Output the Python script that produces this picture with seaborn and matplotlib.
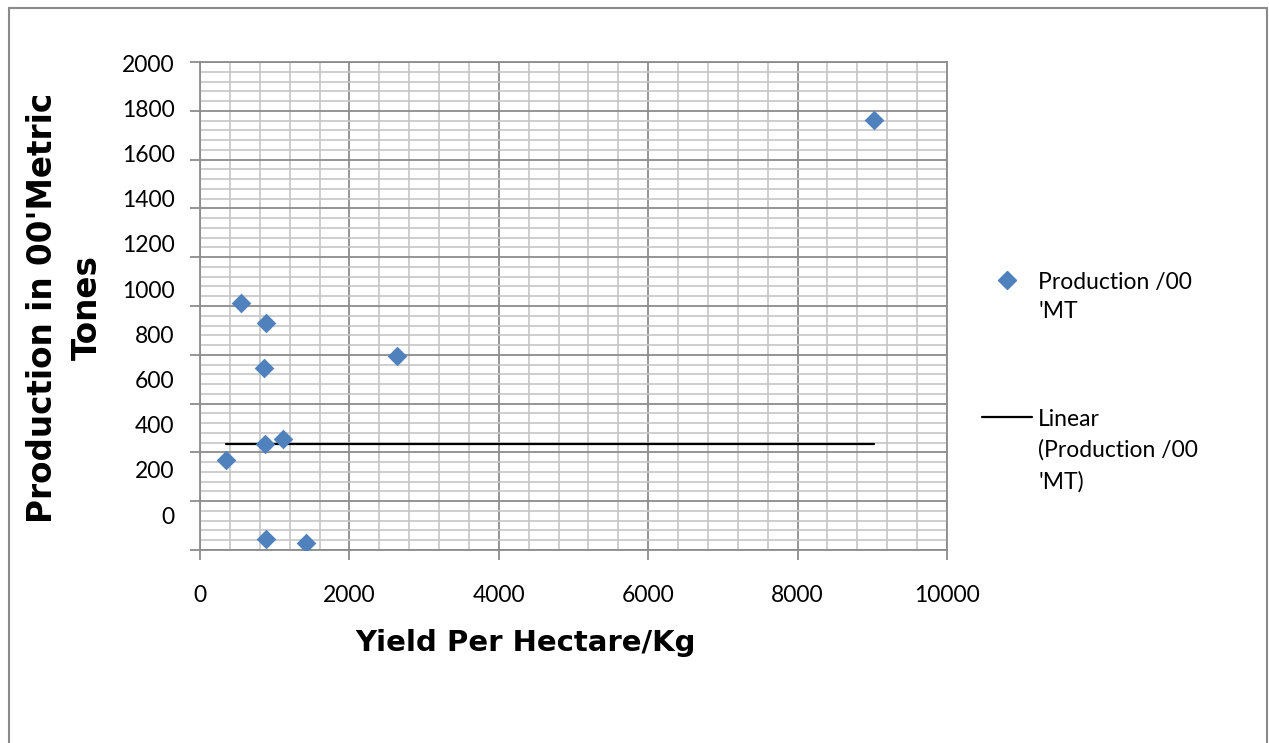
import numpy as np
import pandas as pd
import seaborn as sns
import matplotlib.pyplot as plt
from matplotlib.ticker import MultipleLocator
from matplotlib.lines import Line2D

# -------------------------------
# Data
yield_kg = [348, 549, 883, 857, 874, 1107, 883, 1419, 2633, 9023]
production = [369, 1011, 931, 745, 434, 454, 44, 27, 795, 1762]
trend_level = 434  # flat linear trendline as drawn in the source

x_ticks = [0, 2000, 4000, 6000, 8000, 10000]
y_ticks = [0, 200, 400, 600, 800, 1000, 1200, 1400, 1600, 1800, 2000]

blue = "#4F81BD"
major_grid = "#8c8c8c"
minor_grid = "#c6c6c6"
W, H = 1269, 743

sns.set_style("white")
plt.rcParams["font.family"] = ["Lato", "DejaVu Sans"]
plt.rcParams["text.color"] = "black"
plt.rcParams["xtick.labelcolor"] = "black"
plt.rcParams["ytick.labelcolor"] = "black"

fig = plt.figure(figsize=(W / 100, H / 100), dpi=100)
ax = fig.add_axes([200 / W, 1 - 550 / H, (947 - 200) / W, (550 - 62) / H])

# -------------------------------
# Scatter + trendline
df = pd.DataFrame({"yield": yield_kg, "production": production})
sns.scatterplot(data=df, x="yield", y="production", marker="D", s=100,
                color=blue, edgecolor=blue, linewidth=0, ax=ax, zorder=3, legend=False)

trend = pd.DataFrame({"yield": [min(yield_kg), max(yield_kg)],
                      "production": [trend_level, trend_level]})
sns.lineplot(data=trend, x="yield", y="production", color="black", linewidth=1.6,
             ax=ax, zorder=2)

# -------------------------------
# Axes, grid
ax.set_xlim(x_ticks[0], x_ticks[-1])
ax.set_ylim(y_ticks[0], y_ticks[-1])
ax.set_xticks(x_ticks)
ax.set_yticks(y_ticks)
ax.xaxis.set_minor_locator(MultipleLocator(400))
ax.yaxis.set_minor_locator(MultipleLocator(40))
ax.grid(which="minor", color=minor_grid, linewidth=1.2)
ax.grid(which="major", color=major_grid, linewidth=1.3)
ax.set_axisbelow(True)
ax.tick_params(which="minor", length=0)
ax.tick_params(which="major", length=7, width=1.3, color=major_grid, direction="out",
               left=True, bottom=True, labelsize=16.5, pad=18, labelcolor="black")
ax.set_yticklabels([])
ax.set_xlabel("")
ax.set_ylabel("")
for s in ax.spines.values():
    s.set_color(major_grid)
    s.set_linewidth(1.3)

# y tick labels drift upward relative to the gridlines in the source
for v in y_ticks:
    frac = 1 - (1 + (y_ticks[-1] - v) / 200 * 45.2) / 488
    ax.text(-0.034, frac, str(v), transform=ax.transAxes, ha="right",
            va="center_baseline", fontsize=16.5, color="black")

# -------------------------------
# Axis titles
fig.text(526 / W, 1 - 643 / H, "Yield Per Hectare/Kg", ha="center", va="center",
         fontsize=21, fontweight="heavy", family="DejaVu Sans", color="black")
fig.text(65 / W, 1 - 308 / H, "Production in 00'Metric\nTones", ha="center", va="center",
         rotation=90, fontsize=23.5, fontweight="heavy", family="DejaVu Sans",
         multialignment="center", linespacing=1.45, color="black")

# -------------------------------
# Legend (drawn by hand to keep markers on the first line)
fig.add_artist(Line2D([1007 / W], [1 - 280 / H], marker="D", markersize=9, color=blue,
                      linestyle="none", transform=fig.transFigure))
fig.add_artist(Line2D([982 / W, 1032 / W], [1 - 417 / H, 1 - 417 / H], color="black",
                      linewidth=1.6, transform=fig.transFigure))
legend_lines = [("Production /00", 280), ("'MT", 310), ("Linear", 417),
                ("(Production /00", 448), ("'MT)", 480)]
for txt, py in legend_lines:
    fig.text(1038 / W, 1 - py / H, txt, ha="left", va="center_baseline", fontsize=16.5,
             color="black")

# -------------------------------
# Chart frame
frame = dict(color="#8a8a8a", linewidth=1.5, transform=fig.transFigure)
fig.add_artist(Line2D([9 / W, 9 / W], [0, 1 - 8 / H], **frame))
fig.add_artist(Line2D([9 / W, 1267 / W], [1 - 8 / H, 1 - 8 / H], **frame))
fig.add_artist(Line2D([1267 / W, 1267 / W], [0, 1 - 8 / H], **frame))

fig.savefig("out.png", dpi=100)
